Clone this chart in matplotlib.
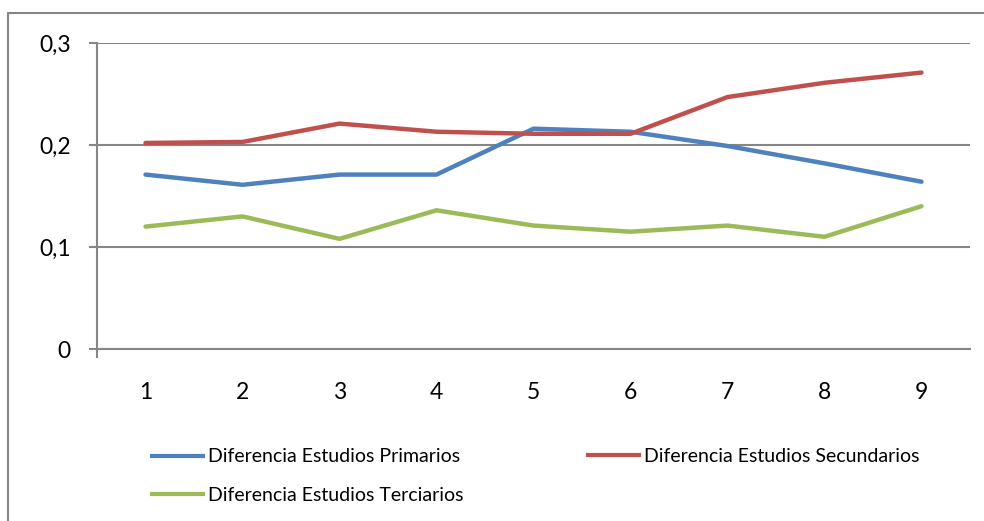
import numpy as np
import matplotlib.pyplot as plt
from matplotlib.patches import Rectangle
from matplotlib.lines import Line2D

plt.rcParams["font.family"] = ["Lato", "DejaVu Sans"]

periods = [1, 2, 3, 4, 5, 6, 7, 8, 9]
primarios = [0.171, 0.161, 0.171, 0.171, 0.216, 0.213, 0.199, 0.182, 0.164]
secundarios = [0.202, 0.203, 0.221, 0.213, 0.211, 0.211, 0.247, 0.261, 0.271]
terciarios = [0.120, 0.130, 0.108, 0.136, 0.121, 0.115, 0.121, 0.110, 0.140]
y_ticks = [0, 0.1, 0.2, 0.3]
y_labels = ["0", "0,1", "0,2", "0,3"]

names = ["Diferencia Estudios Primarios",
         "Diferencia Estudios Secundarios",
         "Diferencia Estudios Terciarios"]
colors = ["#4F81BD", "#C0504D", "#9BBB59"]
grid_c = "#868686"

fig = plt.figure(figsize=(9.84, 5.21), dpi=100)
fig.patches.append(Rectangle((8 / 984, -0.1), 1.2, 1 - 13 / 521 + 0.1,
                             transform=fig.transFigure, fill=False,
                             edgecolor=grid_c, linewidth=1.5))

ax = fig.add_axes([97 / 984, 1 - 349 / 521, 873 / 984, 306 / 521])
x = np.arange(len(periods))
for vals, c in zip([primarios, secundarios, terciarios], colors):
    ax.plot(x, vals, color=c, linewidth=3.2, solid_capstyle="round",
            solid_joinstyle="round", zorder=3)

ax.set_xlim(-0.5, len(periods) - 0.5)
ax.set_ylim(0, 0.3)
ax.set_xticks(x)
ax.set_xticklabels([str(p) for p in periods])
ax.set_yticks(y_ticks)
ax.set_yticklabels(y_labels)
ax.yaxis.grid(True, color=grid_c, linewidth=1.5)
ax.set_axisbelow(True)
for side in ["top", "right"]:
    ax.spines[side].set_visible(False)
ax.spines["left"].set_color(grid_c)
ax.spines["left"].set_linewidth(1.5)
ax.spines["left"].set_bounds(-0.008, 0.3)
ax.spines["bottom"].set_color(grid_c)
ax.spines["bottom"].set_linewidth(1.5)
ax.tick_params(axis="y", length=6, width=1.5, color=grid_c, pad=13,
               labelsize=16.5)
ax.tick_params(axis="x", length=0, pad=24, labelsize=16.5)

# legend in two columns: left column holds two entries, right one
handles = [Line2D([], [], color=c, linewidth=3) for c in colors]
leg_kw = dict(frameon=False, fontsize=14, handlelength=2.6,
              handletextpad=0.3, labelspacing=1.1, borderpad=0,
              borderaxespad=0, loc="center left")
fig.legend([handles[0], handles[2]], [names[0], names[2]],
           bbox_to_anchor=(152 / 984, 1 - 476 / 521), **leg_kw)
fig.legend([handles[1]], [names[1]],
           bbox_to_anchor=(588 / 984, 1 - 456 / 521), **leg_kw)

fig.savefig("out.png", dpi=100)
